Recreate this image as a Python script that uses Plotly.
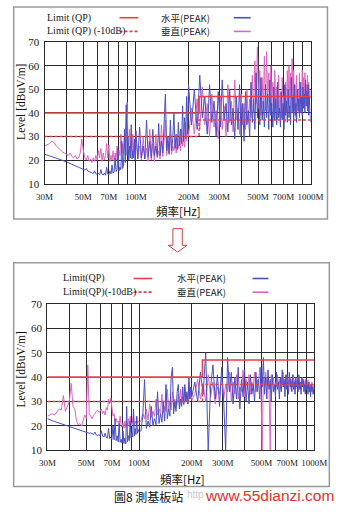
import math
import plotly.graph_objects as go

# ---------------------------------------------------------------- data
# Receiver sweep frequencies (MHz)
FREQ_LOW = [30, 31, 32, 33, 34, 35, 36, 37, 38, 39, 40, 41, 42, 43, 44, 45, 46, 47, 48, 49,
            50, 51, 52, 53, 54, 55, 56, 57, 58, 59, 60, 61, 62, 63, 64, 65, 66, 67, 68, 69,
            70, 71, 72, 73, 74, 75, 76, 77, 78, 79, 80, 81, 82, 83, 84, 85, 86, 87, 88, 89,
            90, 91, 92, 93, 94, 95, 96, 97, 98, 99, 100]
FREQ_MID = [102.5, 105, 107.5, 110, 112.5, 115, 117.5, 120, 122.5, 125, 127.5, 130, 132.5,
            135, 137.5, 140, 142.5, 145, 147.5, 150, 152.5, 155, 157.5, 160, 162.5, 165,
            167.5, 170, 172.5, 175, 177.5, 180, 182.5, 185, 187.5, 190, 192.5, 195, 197.5, 200]
FREQ_HIGH = [208, 216, 224, 232, 240, 248, 256, 264, 272, 280, 288, 296, 304, 312, 320, 328,
             336, 344, 352, 360, 368, 376, 384, 392, 400, 408, 416, 424, 432, 440, 448, 456,
             464, 472, 480, 488, 496, 504, 512, 520, 528, 536, 544, 552, 560, 568, 576, 584,
             592, 600, 608, 616, 624, 632, 640, 648, 656, 664, 672, 680, 688, 696, 704, 712,
             720, 728, 736, 744, 752, 760, 768, 776, 784, 792, 800, 808, 816, 824, 832, 840,
             848, 856, 864, 872, 880, 888, 896, 904, 912, 920, 928, 936, 944, 952, 960, 968,
             976, 984, 992, 1000]

# Before countermeasure: horizontal (水平) peak, dBuV/m
TOP_H_LOW = [22.5, 22.0, 21.8, 21.5, 21.2, 21.0, 20.6, 20.3, 20.0, 19.6,
             19.3, 19.0, 18.6, 18.3, 18.0, 17.6, 17.3, 17.0, 16.7, 16.5,
             16.0, 15.8, 16.5, 15.4, 15.1, 15.0, 14.6, 14.4, 15.5, 14.2,
             14.0, 14.3, 13.8, 16.0, 14.0, 13.7, 14.5, 13.6, 17.0, 14.0,
             13.8, 15.5, 14.2, 18.0, 14.5, 15.0, 21.0, 15.2, 16.0, 25.0,
             15.5, 17.0, 16.0, 28.0, 16.5, 18.0, 33.0, 19.0, 43.5, 22.0,
             30.0, 20.0, 26.0, 21.0, 35.0, 20.5, 24.0, 21.0, 29.0, 20.0,
             32.5]
TOP_H_MID = [20.5, 34.0, 21.0, 26.0, 20.5, 37.0, 21.5, 28.0, 21.0, 33.0,
             22.0, 26.0, 21.5, 35.5, 22.0, 28.0, 23.0, 40.0, 48.0, 24.0,
             30.0, 22.5, 37.0, 24.0, 29.0, 40.0, 25.0, 31.0, 24.5, 36.0,
             26.0, 33.0, 27.0, 43.0, 28.0, 38.0, 29.0, 47.0, 31.0, 52.0]
TOP_H_HIGH = [35, 50, 33, 56, 38, 47, 31, 52, 36, 45,
              30, 49, 34, 54, 37, 44, 32, 50, 35, 42,
              29, 47, 33, 52, 30, 44, 28, 49, 35, 41,
              30, 53, 36, 46, 33, 57, 38, 50, 35, 55,
              37, 45, 34, 52, 38, 48, 33, 54, 39, 44,
              34, 51, 37, 46, 35, 53, 38, 42, 34, 49,
              37, 44, 33, 52, 39, 45, 36, 50, 38, 43,
              35, 55, 40, 47, 37, 52, 39, 44, 36, 50,
              41, 46, 38, 53, 40, 47, 39, 51, 42, 48,
              40, 54, 43, 49, 41, 52, 39, 47, 40, 36]

# Before countermeasure: vertical (垂直) peak
TOP_V_LOW = [26.0, 26.5, 27.0, 28.0, 27.5, 26.0, 25.0, 24.5, 23.5, 23.0,
             22.5, 22.0, 23.0, 21.5, 21.0, 22.0, 20.5, 21.0, 23.0, 29.0,
             24.0, 21.0, 20.0, 22.0, 19.5, 20.5, 19.0, 21.0, 19.5, 22.0,
             20.0, 24.0, 21.0, 25.0, 19.5, 23.0, 20.0, 22.0, 27.0, 21.0,
             26.5, 19.5, 22.0, 20.0, 24.0, 19.5, 23.0, 20.0, 26.0, 21.0,
             24.0, 22.0, 31.0, 23.0, 27.0, 22.5, 30.0, 25.0, 38.0, 44.5,
             29.0, 26.0, 33.0, 25.0, 28.0, 24.0, 31.0, 23.0, 27.0, 22.0,
             29.0]
TOP_V_MID = [21.0, 26.0, 20.0, 30.0, 20.5, 25.0, 19.5, 33.0, 20.0, 27.0,
             19.5, 31.0, 21.0, 24.0, 20.5, 35.0, 21.5, 28.0, 37.0, 22.0,
             27.0, 23.0, 31.0, 22.5, 26.0, 24.0, 29.0, 23.0, 27.0, 25.0,
             30.0, 24.0, 33.0, 26.0, 30.0, 25.5, 36.0, 28.0, 34.0, 30.0]
TOP_V_HIGH = [42, 31, 46, 33, 51, 35, 44, 30, 48, 34,
              41, 29, 47, 33, 43, 30, 52, 36, 45, 32,
              54, 37, 42, 31, 48, 35, 44, 33, 50, 36,
              46, 38, 56, 40, 62, 44, 68, 42, 58, 39,
              55, 43, 64, 41, 66, 45, 57, 40, 60, 44,
              53, 38, 58, 42, 51, 37, 56, 41, 49, 38,
              55, 43, 47, 36, 53, 40, 58, 44, 60, 42,
              57, 46, 63, 44, 58, 41, 52, 38, 56, 43,
              50, 40, 57, 44, 53, 41, 58, 45, 55, 42,
              57, 46, 52, 43, 56, 47, 53, 44, 50, 46]

# After countermeasure: horizontal peak
BOT_H_LOW = [23.0, 22.5, 22.2, 21.8, 21.5, 21.2, 21.0, 20.8, 20.5, 20.2,
             20.0, 19.8, 19.5, 19.3, 19.0, 18.8, 18.5, 18.3, 18.0, 17.8,
             17.6, 17.4, 17.0, 17.2, 16.8, 16.5, 17.5, 16.3, 16.0, 16.5,
             16.0, 18.0, 15.8, 15.5, 17.0, 15.3, 15.0, 19.0, 14.8, 15.5,
             14.5, 20.0, 14.3, 23.0, 14.0, 16.0, 13.5, 21.0, 13.3, 14.5,
             13.0, 18.0, 12.8, 15.0, 12.7, 28.0, 13.5, 16.0, 14.0, 22.0,
             15.0, 17.0, 15.5, 27.0, 16.0, 19.0, 16.5, 24.0, 17.0, 18.5,
             17.5]
BOT_H_MID = [18.0, 24.0, 39.0, 19.0, 22.0, 19.5, 28.0, 20.0, 23.0, 20.5,
             34.0, 21.0, 25.0, 21.5, 30.0, 22.0, 37.0, 23.0, 27.0, 24.0,
             40.0, 44.0, 25.0, 30.0, 26.0, 34.0, 37.0, 27.0, 31.0, 28.0,
             36.0, 29.0, 37.0, 30.0, 34.0, 29.0, 40.0, 31.0, 36.0, 32.0]
BOT_H_HIGH = [38, 30, 42, 33, 50, 10, 36, 45, 31, 41,
              28, 44, 30, 10, 48, 34, 42, 29, 40, 31,
              44, 27, 39, 32, 43, 30, 38, 29, 41, 33,
              37, 30, 42, 34, 39, 31, 44, 36, 48, 33,
              40, 31, 43, 35, 39, 30, 41, 34, 37, 32,
              42, 35, 38, 31, 40, 34, 43, 36, 39, 32,
              41, 35, 38, 33, 42, 36, 39, 34, 41, 35,
              38, 33, 40, 36, 39, 34, 41, 35, 38, 33,
              40, 36, 39, 34, 37, 33, 39, 35, 37, 33,
              38, 34, 36, 32, 37, 34, 36, 33, 35, 33]

# After countermeasure: vertical peak
BOT_V_LOW = [24.0, 24.5, 25.0, 24.5, 26.0, 27.0, 26.5, 32.5, 26.0, 28.0,
             30.0, 37.5, 28.0, 27.0, 22.0, 20.5, 21.0, 20.0, 22.5, 24.5,
             23.0, 45.0, 25.0, 24.0, 23.0, 24.5, 25.0, 26.0, 26.5, 25.5,
             26.0, 27.0, 25.0, 26.0, 24.5, 27.5, 26.5, 31.0, 29.0, 31.5,
             26.0, 24.0, 25.0, 22.0, 23.0, 21.5, 22.0, 20.5, 24.0, 20.0,
             19.5, 21.0, 19.0, 22.0, 19.5, 21.0, 20.0, 23.0, 19.5, 24.0,
             20.0, 21.0, 22.0, 25.0, 20.5, 22.0, 21.0, 23.5, 21.0, 22.0,
             21.5]
BOT_V_MID = [22.0, 25.0, 23.0, 27.0, 22.5, 29.0, 23.5, 26.0, 24.0, 31.0,
             24.5, 27.0, 25.0, 33.0, 25.5, 28.0, 26.0, 35.0, 27.0, 30.0,
             26.5, 34.0, 28.0, 31.0, 27.5, 29.0, 33.0, 28.0, 35.0, 29.5,
             32.0, 28.5, 36.0, 30.0, 33.0, 29.0, 38.0, 31.0, 35.0, 30.5]
BOT_V_HIGH = [33, 39, 31, 37, 30, 41, 32, 38, 29, 36,
              33, 40, 31, 37, 34, 42, 30, 38, 33, 41,
              31, 36, 34, 43, 32, 39, 35, 41, 33, 38,
              36, 42, 34, 39, 37, 44, 35, 10, 40, 36,
              42, 37, 39, 35, 10, 41, 37, 40, 35, 38,
              36, 41, 37, 39, 35, 40, 37, 42, 36, 39,
              37, 41, 36, 39, 37, 40, 35, 38, 36, 41,
              37, 39, 35, 38, 36, 40, 37, 39, 35, 38,
              36, 40, 37, 39, 36, 38, 35, 37, 36, 39,
              35, 38, 34, 37, 35, 38, 36, 37, 35, 37]

# Quasi-peak limit (stepped at 230 MHz) and the -10 dB margin line
LIMIT_FREQ = [30, 230, 230, 1000]
LIMIT_QP = [40, 40, 47, 47]
LIMIT_QP_10DB = [30, 30, 37, 37]

# Axis ticks
X_GRID = [30, 40, 50, 60, 70, 80, 90, 100, 200, 300, 400, 500, 600, 700, 800, 900, 1000]
X_TEXT = ["30M", "", "50M", "", "70M", "", "", "100M", "200M", "300M", "",
          "500M", "", "700M", "", "", "1000M"]
Y_TICKS = [10, 20, 30, 40, 50, 60, 70]

FREQ = FREQ_LOW + FREQ_MID + FREQ_HIGH
TOP_H = TOP_H_LOW + TOP_H_MID + TOP_H_HIGH
TOP_V = TOP_V_LOW + TOP_V_MID + TOP_V_HIGH
BOT_H = BOT_H_LOW + BOT_H_MID + BOT_H_HIGH
BOT_V = BOT_V_LOW + BOT_V_MID + BOT_V_HIGH
for s in (TOP_H, TOP_V, BOT_H, BOT_V):
    assert len(s) == len(FREQ)

# ---------------------------------------------------------------- style
W, H = 347, 515
RED = "#e8404a"
BLUE = "#4a4fc4"
PINK = "#de66c0"
GRID = "#2a2a2a"
SERIF = "Liberation Serif, DejaVu Serif, serif"
CJK = "Noto Sans CJK TC, Noto Sans CJK SC, sans-serif"


def px(x):
    return x / W


def py(y):
    return 1 - y / H


fig = go.Figure()

panels = [
    ("x", "y", TOP_H, TOP_V),
    ("x2", "y2", BOT_H, BOT_V),
]
for xa, ya, h_vals, v_vals in panels:
    fig.add_trace(go.Scatter(x=FREQ, y=v_vals, mode="lines", xaxis=xa, yaxis=ya,
                             line=dict(color=PINK, width=1), showlegend=False))
    fig.add_trace(go.Scatter(x=FREQ, y=h_vals, mode="lines", xaxis=xa, yaxis=ya,
                             line=dict(color=BLUE, width=1), showlegend=False))
    fig.add_trace(go.Scatter(x=LIMIT_FREQ, y=LIMIT_QP_10DB, mode="lines", xaxis=xa, yaxis=ya,
                             line=dict(color=RED, width=1.4, dash="3px,2px"), showlegend=False))
    fig.add_trace(go.Scatter(x=LIMIT_FREQ, y=LIMIT_QP, mode="lines", xaxis=xa, yaxis=ya,
                             line=dict(color=RED, width=1.6), showlegend=False))


def xaxis(domain, anchor):
    return dict(type="log", range=[math.log10(30), math.log10(1000)], domain=domain,
                anchor=anchor, tickmode="array", tickvals=X_GRID, ticktext=X_TEXT,
                tickangle=0, showgrid=True, gridcolor=GRID, gridwidth=1.3, showline=True,
                mirror=True, linecolor=GRID, linewidth=1.3, ticks="", zeroline=False,
                tickfont=dict(family=SERIF, size=9, color="#222"), ticklabelstandoff=4)


def yaxis(domain, anchor):
    return dict(range=[10, 70], domain=domain, anchor=anchor, tickmode="array",
                tickvals=Y_TICKS, showgrid=True, gridcolor=GRID, gridwidth=1.3,
                showline=True, mirror=True, linecolor=GRID, linewidth=1.3, ticks="",
                zeroline=False, tickfont=dict(family=SERIF, size=11, color="#222"),
                ticklabelstandoff=2)


shapes = []
annotations = []


def note(text, x, y, family, size, color="#111", anchor="center", angle=0):
    annotations.append(dict(text=text, x=px(x), y=py(y), xref="paper", yref="paper",
                            xanchor=anchor, yanchor="middle", textangle=angle,
                            showarrow=False, font=dict(family=family, size=size, color=color)))


def seg(x0, y0, x1, y1, color, width=1.0, dash="solid"):
    shapes.append(dict(type="line", xref="paper", yref="paper", x0=px(x0), x1=px(x1),
                       y0=py(y0), y1=py(y1), line=dict(color=color, width=width, dash=dash)))


# Outer frames around each chart
for x0, y0, x1, y1 in [(5, 1, 340, 218), (5, 263, 342, 492)]:
    shapes.append(dict(type="rect", xref="paper", yref="paper", x0=px(x0), x1=px(x1),
                       y0=py(y1), y1=py(y0), line=dict(color="#9a9a9a", width=1.5)))


def legend(x_text1, x_line1, x_text2, x_line2, y1, y2, lim_a, lim_b):
    items = [
        (lim_a, x_text1, x_line1, y1, RED, "solid", SERIF, 10),
        (lim_b, x_text1, x_line1, y2, RED, "3px,2px", SERIF, 10),
        ("水平(PEAK)", x_text2, x_line2, y1, BLUE, "solid", CJK, 9.5),
        ("垂直(PEAK)", x_text2, x_line2, y2, PINK, "solid", CJK, 9.5),
    ]
    for label, xt, (xl0, xl1), yy, col, dash, fam, size in items:
        note(label, xt, yy, fam, size, "#222", anchor="left")
        seg(xl0, yy, xl1, yy, col, 1.6, dash)


legend(38, (118, 138), 160, (240, 258), 12, 26, "Limit (QP)", "Limit (QP) (-10dB)")
legend(55, (133, 153), 177, (260, 277), 279, 293, "Limit(QP)", "Limit(QP)(-10dB)")

# Axis titles
for xc, yc in [(181, 210), (185, 484)]:
    note("頻率[Hz]", xc, yc, CJK, 11.5)
for yc in [98, 372]:
    note("Level [dBuV/m]", 13, yc, SERIF, 11.5, angle=-90)

# Hollow down arrow between the two charts (outline segments)
outline = [(175, 228), (185, 228), (185, 245), (190, 245), (180, 252),
           (170, 245), (175, 245), (175, 228)]
for (ax0, ay0), (ax1, ay1) in zip(outline[:-1], outline[1:]):
    seg(ax0, ay0, ax1, ay1, "#cc4444", 1.0)

# Caption and site mark
note("http", 199, 500, "Liberation Sans", 10, "#c9c9c9")
note("圖8 測基板站", 110, 502, CJK, 12, "#111", anchor="left")
note("www.55dianzi.com", 278, 501, "Liberation Sans, Arial", 15.5, "#e33030")

fig.update_layout(
    width=W, height=H, margin=dict(l=0, r=0, t=0, b=0),
    paper_bgcolor="white", plot_bgcolor="white", showlegend=False,
    xaxis=xaxis([px(38), px(322)], "y"),
    yaxis=yaxis([py(182), py(37)], "x"),
    xaxis2=xaxis([px(41), px(326)], "y2"),
    yaxis2=yaxis([py(455), py(305)], "x2"),
    shapes=shapes, annotations=annotations,
)

fig.write_html("out.html", config={"displayModeBar": False})
